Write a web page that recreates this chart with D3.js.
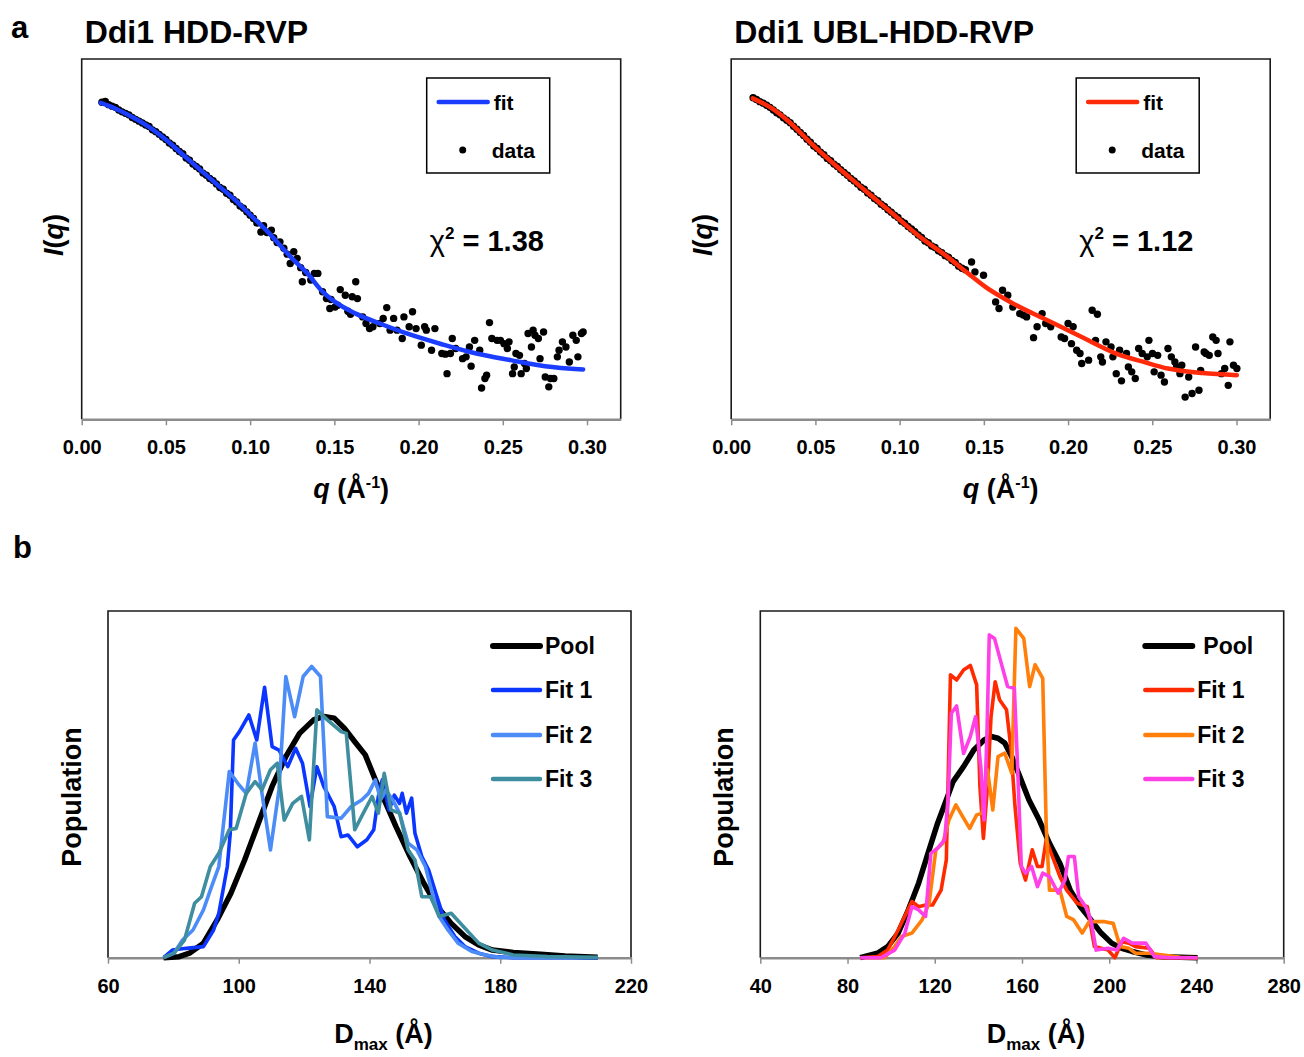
<!DOCTYPE html>
<html>
<head>
<meta charset="utf-8">
<script src="https://cdn.jsdelivr.net/npm/d3@7"></script>
<style>
  body { margin: 0; background: #fff; }
  svg text { font-family: "Liberation Sans", Arial, sans-serif; font-weight: bold; fill: #000; }
</style>
</head>
<body>
<svg id="chart" width="1304" height="1057"></svg>
<script>
// ---------- panel a : scattering profiles (intensity in arbitrary units) ----------
const qTicks = [0, 0.05, 0.10, 0.15, 0.20, 0.25, 0.30];
const titlesA = ['Ddi1 HDD-RVP', 'Ddi1 UBL-HDD-RVP'];
const chiSquared = ['1.38', '1.12'];
const fitColorsA = ['#1a3dff', '#ff2a0a'];

const hddFit = [[0.0113,105.4],[0.0195,103.6],[0.0297,100.8],[0.0399,97.4],[0.0502,93.0],[0.0604,88.0],
  [0.0706,83.0],[0.0808,78.0],[0.0911,73.0],[0.1013,67.4],[0.1095,63.0],[0.1177,58.0],[0.1259,53.0],
  [0.1340,48.6],[0.1422,43.0],[0.1504,39.1],[0.1627,35.2],[0.1770,31.9],[0.1934,28.5],[0.2138,25.0],
  [0.2343,21.9],[0.2547,19.7],[0.2752,17.7],[0.2977,16.6]];

const hddData = [[0.012,105.6],[0.014,105.9],[0.016,104.8],[0.018,104.3],[0.020,103.9],[0.022,103.0],
  [0.024,102.4],[0.026,101.9],[0.028,101.4],[0.030,100.5],[0.032,99.9],[0.034,99.3],[0.036,98.7],
  [0.038,98.0],[0.040,97.5],[0.042,96.4],[0.044,95.8],[0.046,94.9],[0.048,94.0],[0.050,93.2],
  [0.052,92.0],[0.054,91.3],[0.056,90.2],[0.058,89.2],[0.060,88.5],[0.062,87.0],[0.064,86.3],
  [0.066,85.0],[0.068,84.2],[0.070,83.4],[0.072,82.0],[0.074,81.3],[0.076,80.2],[0.078,79.5],
  [0.080,78.4],[0.082,77.2],[0.084,76.6],[0.086,75.3],[0.088,74.6],[0.090,73.2],[0.092,72.4],
  [0.094,71.0],[0.096,70.3],[0.098,69.1],[0.100,68.0],[0.102,66.9],[0.104,65.4],
  [0.108,64.5],[0.110,62.2],[0.114,60.5],[0.116,58.9],[0.120,57.0],[0.122,55.0],[0.130,50.5],
  [0.133,48.9],[0.136,46.4],[0.143,42.5],[0.148,39.9],[0.152,38.0],[0.158,36.0],
  [0.1064,62.4],[0.1126,63.0],[0.1177,59.1],[0.1238,51.9],[0.1259,55.8],[0.1279,53.6],[0.1310,45.8],
  [0.1381,48.6],[0.1402,48.6],[0.1453,40.2],[0.1473,36.9],[0.1504,37.4],[0.1535,43.2],[0.1565,41.3],
  [0.1606,40.8],[0.1596,35.0],[0.1627,45.8],[0.1637,40.2],[0.1668,34.1],[0.1688,31.9],[0.1709,30.2],
  [0.1729,30.8],[0.1770,31.9],[0.1790,33.6],[0.1811,37.2],[0.1831,29.7],[0.1852,33.6],[0.1872,29.7],
  [0.1903,26.9],[0.1913,34.1],[0.1944,30.8],[0.1964,35.8],[0.1985,30.2],[0.2016,24.7],[0.2036,30.8],
  [0.2046,29.7],[0.2077,23.0],[0.2097,30.2],[0.2138,21.9],[0.2159,21.7],[0.2169,15.2],[0.2189,21.9],
  [0.2200,26.9],[0.2220,23.6],[0.2261,20.2],[0.2282,20.8],[0.2302,24.1],[0.2312,17.7],[0.2333,26.3],
  [0.2363,23.0],[0.2374,10.4],[0.2394,13.6],[0.2404,14.7],[0.2421,32.2],[0.2435,26.9],[0.2466,26.3],
  [0.2486,26.3],[0.2507,25.2],[0.2527,23.6],[0.2537,25.8],[0.2558,15.2],[0.2568,17.4],[0.2578,21.9],
  [0.2599,21.3],[0.2609,15.2],[0.2629,18.6],[0.2640,16.9],[0.2650,28.6],[0.2670,24.1],[0.2680,29.7],
  [0.2691,28.0],[0.2711,26.9],[0.2721,20.2],[0.2742,29.1],[0.2752,14.1],[0.2773,10.8],[0.2783,13.6],
  [0.2803,13.6],[0.2824,20.8],[0.2834,23.0],[0.2854,25.8],[0.2875,24.1],[0.2895,19.1],[0.2916,28.0],
  [0.2936,26.3],[0.2946,20.8],[0.2967,28.6],[0.2977,29.1]];

const ublFit = [[0.0128,106.9],[0.0240,103.6],[0.0343,99.1],[0.0486,91.3],[0.0629,84.1],[0.0793,76.3],
  [0.0956,68.6],[0.1120,60.8],[0.1284,54.1],[0.1406,48.6],[0.1509,44.1],[0.1672,38.6],[0.1877,33.0],
  [0.2081,27.4],[0.2286,21.9],[0.2450,19.1],[0.2593,16.9],[0.2797,15.4],[0.3002,14.7]];

const ublData = [[0.013,107.1],[0.015,106.5],[0.017,105.8],[0.019,105.3],[0.021,104.6],[0.023,103.9],
  [0.025,103.0],[0.027,102.1],[0.029,101.4],[0.031,100.4],[0.033,99.6],[0.035,98.8],[0.037,97.6],
  [0.039,96.6],[0.041,95.5],[0.043,94.5],[0.045,93.3],[0.047,92.3],[0.049,91.0],[0.051,90.2],
  [0.053,89.0],[0.055,88.1],[0.057,86.9],[0.059,86.1],[0.061,85.0],[0.063,84.2],[0.065,83.1],
  [0.067,82.2],[0.069,81.3],[0.071,80.2],[0.073,79.4],[0.075,78.4],[0.077,77.3],[0.079,76.6],
  [0.081,75.4],[0.083,74.6],[0.085,73.5],[0.087,72.8],[0.089,71.6],[0.091,70.9],[0.093,69.8],
  [0.095,69.0],[0.097,68.0],[0.099,67.2],[0.101,66.0],[0.103,65.3],[0.105,64.2],[0.107,63.4],
  [0.109,62.5],[0.111,61.4],[0.113,60.6],[0.115,59.4],[0.117,58.8],[0.119,57.7],[0.121,57.2],
  [0.123,56.1],[0.125,55.5],[0.127,54.5],[0.129,54.0],[0.131,52.9],[0.133,52.2],[0.135,51.0],
  [0.137,50.3],[0.139,49.8],
  [0.1427,52.4],[0.1447,49.1],[0.1498,48.0],[0.1570,39.1],[0.1590,36.9],[0.1611,43.0],[0.1642,41.3],
  [0.1672,37.4],[0.1713,35.2],[0.1734,34.7],[0.1754,34.1],[0.1795,27.2],[0.1816,30.8],[0.1846,35.2],
  [0.1867,31.9],[0.1897,30.8],[0.1959,27.4],[0.1979,26.9],[0.2000,31.9],[0.2020,25.2],[0.2030,30.8],
  [0.2051,23.0],[0.2071,21.9],[0.2081,18.6],[0.2122,19.7],[0.2143,36.3],[0.2174,35.0],[0.2163,26.3],
  [0.2194,20.8],[0.2204,19.1],[0.2225,25.8],[0.2255,24.1],[0.2266,20.8],[0.2286,15.2],[0.2317,12.8],
  [0.2306,23.0],[0.2347,21.9],[0.2358,17.4],[0.2378,15.8],[0.2399,13.6],[0.2419,23.6],[0.2440,21.9],
  [0.2470,20.8],[0.2480,26.3],[0.2501,21.9],[0.2511,15.8],[0.2532,21.3],[0.2552,14.7],[0.2572,12.4],
  [0.2593,23.6],[0.2613,20.8],[0.2634,19.1],[0.2644,17.4],[0.2664,15.2],[0.2675,18.0],[0.2695,7.4],
  [0.2716,14.1],[0.2736,8.6],[0.2757,24.1],[0.2777,9.7],[0.2787,16.3],[0.2808,22.4],[0.2818,21.9],
  [0.2838,21.3],[0.2859,27.4],[0.2879,26.3],[0.2890,21.9],[0.2910,15.2],[0.2930,16.9],[0.2951,11.3],
  [0.2961,25.8],[0.2982,18.0],[0.3002,16.9]];

// ---------- panel b : Dmax distributions (population in arbitrary units) ----------
const dmaxTicksL = [60, 100, 140, 180, 220];
const dmaxTicksR = [40, 80, 120, 160, 200, 240, 280];
const seriesNames = ['Pool', 'Fit 1', 'Fit 2', 'Fit 3'];
const colorsL = ['#000000', '#0a36ff', '#4b8cf7', '#3f8e9f'];
const colorsR = ['#000000', '#ff2a00', '#ff7f0a', '#ff40e6'];

const hddPool = [[77.0,0],[81.8,0.3],[84.9,1.3],[89.2,4.2],[93.4,10.9],[97.6,18.6],[101.8,28.2],[106.0,38.8],
  [110.2,49.4],[114.4,58.0],[118.6,64.7],[122.9,68.6],[126.0,69.6],[129.2,69.1],[132.3,66.2],[135.5,62.3],
  [138.7,58.5],[141.8,51.3],[145.0,44.5],[148.1,37.8],[152.4,29.2],[156.6,21.5],[160.8,14.7],[165.0,9.9],
  [169.2,6.1],[173.4,3.7],[177.6,2.2],[184.0,1.5],[192.4,1.0],[199.8,0.5],[209.8,0.1]];
const hddFit1 = [[77.0,0],[79.7,2.2],[83.9,2.7],[89.2,3.2],[92.3,8.0],[93.9,12.8],[96.5,26.3],[97.4,35.9],
  [98.4,62.8],[100.2,65.2],[103.1,70.0],[105.5,62.8],[107.9,78.0],[110.2,60.9],[112.3,59.9],[115.0,55.1],
  [117.4,60.4],[119.5,56.1],[121.8,43.6],[123.9,55.1],[126.0,49.4],[129.2,43.6],[131.3,34.9],[133.4,35.4],
  [136.3,32.0],[139.2,34.0],[141.3,36.9],[142.7,46.5],[143.9,51.3],[146.0,42.6],[147.6,46.9],[149.2,44.5],
  [150.0,47.4],[151.3,41.7],[152.9,46.0],[153.9,35.9],[156.0,29.2],[158.1,25.3],[160.3,18.6],[162.9,10.9],
  [166.1,6.1],[169.2,3.2],[173.4,1.3],[177.6,0.3],[184.0,0],[209.8,0]];
const hddFit2 = [[77.0,0],[80.2,1.3],[82.8,5.1],[86.0,8.0],[89.2,13.8],[91.3,19.5],[93.9,26.3],[97.1,53.7],
  [99.7,50.3],[102.3,47.4],[105.0,61.9],[107.1,47.4],[109.7,31.1],[112.3,48.4],[114.4,81.1],[117.1,69.5],
  [119.7,81.1],[122.3,84.0],[125.0,81.1],[127.1,40.7],[131.3,40.2],[134.4,43.6],[137.6,45.5],[139.7,47.4],
  [141.8,51.3],[143.4,45.5],[145.0,48.4],[147.1,45.5],[149.2,41.7],[151.8,33.0],[154.5,31.1],[157.1,26.3],
  [159.2,18.6],[161.3,11.9],[164.0,8.0],[167.1,4.2],[171.3,1.8],[175.5,0.8],[179.7,0.1],[189.2,0],[209.8,0]];
const hddFit3 = [[77.0,0],[80.2,1.3],[83.4,5.1],[86.5,15.7],[88.6,17.6],[91.3,26.3],[93.9,30.1],[97.1,36.9],
  [99.2,37.3],[102.3,47.4],[105.0,50.8],[107.1,48.4],[109.7,54.2],[111.8,56.1],[113.9,39.7],[116.5,44.5],
  [119.2,46.5],[121.6,34.0],[123.9,71.5],[127.1,68.6],[131.3,65.2],[132.9,64.7],[135.5,36.9],[138.1,41.7],
  [140.8,46.5],[142.7,41.7],[144.5,53.2],[146.6,42.6],[149.2,41.7],[151.8,31.1],[153.9,28.2],[156.0,17.6],
  [158.7,17.6],[161.3,11.9],[165.0,12.8],[168.7,9.0],[173.4,4.2],[177.6,2.2],[184.0,0.8],[194.5,0.3],[209.8,0.1]];

const ublPool = [[85.8,0],[93.7,1.3],[98.4,3.2],[103.2,7.1],[107.9,13.8],[112.6,21.5],[117.4,31.1],[121.3,38.8],
  [125.3,45.5],[128.4,50.8],[133.2,55.1],[137.9,59.9],[142.6,62.8],[145.8,63.8],[149.0,63.3],[152.1,61.9],
  [155.3,58.0],[158.4,53.2],[163.2,45.5],[167.9,39.7],[172.6,33.0],[177.4,27.2],[182.1,19.5],[186.8,14.7],
  [191.6,10.9],[196.3,7.1],[201.1,4.2],[205.8,2.7],[210.5,1.8],[216.8,0.8],[224.7,0.3],[240.5,0]];
const ublFit1 = [[85.8,0],[93.7,0.3],[98.4,2.2],[103.2,8.0],[109.5,16.2],[112.6,14.7],[115.8,15.2],[119.0,15.2],
  [122.9,19.5],[125.3,28.2],[127.2,81.6],[130.0,80.1],[133.2,83.0],[136.3,84.3],[139.2,78.7],[140.7,49.4],
  [142.3,34.4],[144.2,49.4],[145.8,69.5],[147.7,79.6],[149.7,74.4],[152.9,71.5],[155.0,59.9],[156.8,43.6],
  [159.2,27.2],[161.6,22.4],[164.7,31.1],[167.1,26.3],[169.2,26.3],[171.1,34.0],[173.4,30.1],[177.4,23.4],
  [180.5,19.5],[185.3,15.7],[190.0,14.7],[193.2,3.2],[196.3,2.7],[199.5,2.2],[202.6,0],[205.8,4.6],
  [209.0,4.2],[212.1,3.2],[218.4,2.7],[221.6,0],[240.5,0]];
const ublFit2 = [[87.4,0],[96.9,0],[101.6,3.2],[104.7,6.1],[109.5,7.1],[114.2,10.9],[117.4,15.7],[120.5,31.1],
  [123.7,33.0],[126.5,39.7],[129.7,44.1],[132.8,40.7],[136.0,37.3],[139.2,41.2],[141.8,41.7],[144.2,54.2],
  [146.6,42.6],[149.0,58.0],[152.1,59.0],[155.3,53.2],[157.2,95.0],[160.8,92.1],[163.5,78.2],[166.0,84.5],
  [169.5,80.6],[171.1,37.8],[172.6,19.5],[175.0,19.5],[177.4,19.5],[180.5,11.9],[183.7,10.9],[187.6,7.1],
  [190.8,10.4],[194.0,10.4],[197.9,10.4],[201.8,9.9],[205.0,3.2],[209.0,2.7],[212.1,1.3],[218.4,1.3],
  [224.7,0.8],[232.6,0.1],[240.5,0]];
const ublFit3 = [[85.8,0],[95.3,0],[101.6,2.2],[106.3,7.1],[109.5,14.7],[112.6,13.8],[115.8,11.9],[118.2,30.1],
  [121.3,31.6],[124.5,34.0],[126.1,45.5],[127.6,70.5],[130.0,72.6],[133.2,58.9],[136.3,63.8],[138.7,69.5],
  [141.1,55.1],[142.6,39.7],[143.9,63.8],[145.0,93.1],[147.4,92.1],[150.5,84.9],[153.4,78.2],[156.5,77.7],
  [158.1,53.2],[159.7,26.3],[161.6,24.4],[164.4,26.3],[167.1,20.5],[169.5,24.4],[172.6,23.4],[176.6,18.6],
  [179.7,22.4],[181.3,29.2],[184.0,29.2],[186.0,17.6],[189.2,14.7],[191.6,10.9],[194.0,2.2],[199.5,2.7],
  [203.4,2.2],[206.6,5.6],[210.5,4.2],[216.8,4.2],[220.8,0.3],[227.9,0],[240.5,0]];

const svg = d3.select('#chart');

// frame + bottom axis, returns scales
function makePanel(box, xDomain, yDomain, ticks, fmt) {
  const g = svg.append('g');
  const x = d3.scaleLinear().domain(xDomain).range([box.x0, box.x1]);
  const y = d3.scaleLinear().domain(yDomain).range([box.y1, box.y0]);
  g.append('path')
    .attr('d', `M${box.x0},${box.y1}V${box.y0}H${box.x1}V${box.y1}`)
    .attr('fill', 'none')
    .attr('stroke', '#1a1a1a')
    .attr('stroke-width', 1.6);
  const axis = g.append('g')
    .attr('transform', `translate(0,${box.y1})`)
    .call(d3.axisBottom(x).tickValues(ticks).tickFormat(fmt).tickSize(6).tickSizeOuter(0).tickPadding(15));
  axis.select('.domain').attr('stroke', '#8c8c8c').attr('stroke-width', 2.5);
  axis.selectAll('.tick line').attr('stroke', '#8c8c8c').attr('stroke-width', 1.5);
  axis.selectAll('.tick text').style('font-size', '20px');
  return { g, x, y };
}

function rotatedLabel(x, y, size) {
  return svg.append('text')
    .attr('transform', `translate(${x},${y}) rotate(-90)`)
    .attr('text-anchor', 'middle')
    .style('font-size', size + 'px');
}

// panel letters
svg.append('text').attr('x', 11).attr('y', 38).style('font-size', '31px').text('a');
svg.append('text').attr('x', 13).attr('y', 558).style('font-size', '31px').text('b');

// ---------- panel a ----------
const boxesA = [
  { x0: 81.7, x1: 620.7, y0: 59, y1: 419.3 },
  { x0: 731.2, x1: 1270.2, y0: 59, y1: 419.3 }
];
const dataA = [hddData, ublData];
const fitsA = [hddFit, ublFit];

boxesA.forEach((box, i) => {
  const p = makePanel(box, [0, 0.32], [0, 120], qTicks, d3.format('.2f'));

  svg.append('text').attr('x', box.x0 + 3).attr('y', 43).style('font-size', '32px').text(titlesA[i]);

  p.g.append('g').selectAll('circle')
    .data(dataA[i])
    .join('circle')
    .attr('cx', d => p.x(d[0]))
    .attr('cy', d => p.y(d[1]))
    .attr('r', 3.7)
    .attr('fill', '#000');

  p.g.append('path')
    .datum(fitsA[i])
    .attr('d', d3.line().x(d => p.x(d[0])).y(d => p.y(d[1])).curve(d3.curveMonotoneX))
    .attr('fill', 'none')
    .attr('stroke', fitColorsA[i])
    .attr('stroke-width', 4.5)
    .attr('stroke-linecap', 'round');

  // legend
  const lx = box.x0 + 345, ly = box.y0 + 19;
  p.g.append('rect').attr('x', lx).attr('y', ly).attr('width', 123).attr('height', 95)
    .attr('fill', '#fff').attr('stroke', '#000').attr('stroke-width', 1.5);
  p.g.append('line').attr('x1', lx + 12).attr('x2', lx + 61).attr('y1', ly + 24).attr('y2', ly + 24)
    .attr('stroke', fitColorsA[i]).attr('stroke-width', 4.5).attr('stroke-linecap', 'round');
  p.g.append('text').attr('x', lx + 67).attr('y', ly + 32).style('font-size', '21px').text('fit');
  p.g.append('circle').attr('cx', lx + 36).attr('cy', ly + 72).attr('r', 3.5).attr('fill', '#000');
  p.g.append('text').attr('x', lx + 65).attr('y', ly + 80).style('font-size', '21px').text('data');

  // chi squared
  const chi = p.g.append('text').attr('x', box.x0 + 348).attr('y', 251).style('font-size', '29px');
  chi.append('tspan').style('font-weight', 'normal').text('χ');
  chi.append('tspan').attr('dy', -12).style('font-size', '17px').text('2');
  chi.append('tspan').attr('dy', 12).text(' = ' + chiSquared[i]);

  // axis titles
  const xt = svg.append('text').attr('x', (box.x0 + box.x1) / 2).attr('y', 498)
    .attr('text-anchor', 'middle').style('font-size', '27px');
  xt.append('tspan').style('font-style', 'italic').text('q');
  xt.append('tspan').text(' (Å');
  xt.append('tspan').attr('dy', -10).style('font-size', '16px').text('-1');
  xt.append('tspan').attr('dy', 10).text(')');

  const yt = rotatedLabel(box.x0 - 19, 235, 27);
  yt.append('tspan').style('font-style', 'italic').text('I');
  yt.append('tspan').text('(');
  yt.append('tspan').style('font-style', 'italic').text('q');
  yt.append('tspan').text(')');
});

// ---------- panel b ----------
const panelsB = [
  { box: { x0: 108, x1: 631, y0: 611, y1: 957.7 }, domain: [60, 220], ticks: dmaxTicksL,
    series: [hddPool, hddFit1, hddFit2, hddFit3], colors: colorsL, poolText: 437 },
  { box: { x0: 760.3, x1: 1283.7, y0: 611, y1: 957.7 }, domain: [40, 280], ticks: dmaxTicksR,
    series: [ublPool, ublFit1, ublFit2, ublFit3], colors: colorsR, poolText: 443 }
];

panelsB.forEach(pb => {
  const box = pb.box;
  const p = makePanel(box, pb.domain, [0, 100], pb.ticks, d3.format('d'));
  const line = d3.line().x(d => p.x(d[0])).y(d => p.y(d[1]));

  p.g.append('g').selectAll('path')
    .data(pb.series)
    .join('path')
    .attr('d', line)
    .attr('fill', 'none')
    .attr('stroke', (d, i) => pb.colors[i])
    .attr('stroke-width', (d, i) => i === 0 ? 5.5 : 3.6)
    .attr('stroke-linejoin', 'round');

  const legendY = [35, 79, 124, 168];
  seriesNames.forEach((name, i) => {
    const y = box.y0 + legendY[i];
    p.g.append('line').attr('x1', box.x0 + 385).attr('x2', box.x0 + 432).attr('y1', y).attr('y2', y)
      .attr('stroke', pb.colors[i]).attr('stroke-width', i === 0 ? 6 : 4.5).attr('stroke-linecap', 'round');
    p.g.append('text').attr('x', box.x0 + (i === 0 ? pb.poolText : 437)).attr('y', y + 8)
      .style('font-size', '23px').text(name);
  });

  const xt = svg.append('text').attr('x', (box.x0 + box.x1) / 2 + 14).attr('y', 1043)
    .attr('text-anchor', 'middle').style('font-size', '27px');
  xt.append('tspan').text('D');
  xt.append('tspan').attr('dy', 7).style('font-size', '17px').text('max');
  xt.append('tspan').attr('dy', -7).text(' (Å)');

  rotatedLabel(box.x0 - 27, 797, 27).text('Population');
});
</script>
</body>
</html>
